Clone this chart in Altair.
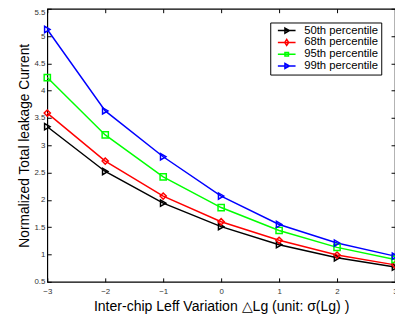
import altair as alt
import pandas as pd

x_vals = [-3, -2, -1, 0, 1, 2, 3]
series_names = ["50th percentile", "68th percentile", "95th percentile", "99th percentile"]
p50 = [3.34, 2.52, 1.94, 1.51, 1.18, 0.94, 0.77]
p68 = [3.59, 2.71, 2.07, 1.60, 1.26, 0.99, 0.81]
p95 = [4.24, 3.19, 2.42, 1.86, 1.44, 1.13, 0.91]
p99 = [5.12, 3.63, 2.79, 2.07, 1.55, 1.21, 0.97]
x_ticks = [-3, -2, -1, 0, 1, 2, 3]
y_ticks = [0.5, 1, 1.5, 2, 2.5, 3, 3.5, 4, 4.5, 5, 5.5]

colors = ["#000000", "#ff0000", "#00ff00", "#0000ff"]
marker_shapes = ["triangle-right", "diamond", "square", "triangle-right"]
legend_shapes = [
    "M-2.25,0H2.25M-0.45,-0.65L0.7,0L-0.45,0.65Z",
    "M-2.25,0H2.25M0,-0.75L0.5,0L0,0.75L-0.5,0Z",
    "M-2.25,0H2.25M-0.45,-0.45H0.45V0.45H-0.45Z",
    "M-2.25,0H2.25M-0.45,-0.65L0.7,0L-0.45,0.65Z",
]

rows = []
for name, vals in zip(series_names, [p50, p68, p95, p99]):
    for xv, yv in zip(x_vals, vals):
        rows.append({"x": xv, "y": yv, "series": name})
df = pd.DataFrame(rows)

FONT = "Liberation Sans"

xscale = alt.Scale(domain=[-3, 3], nice=False, zero=False)
yscale = alt.Scale(domain=[0.5, 5.5], nice=False, zero=False)

base = alt.Chart(df)

lines = base.mark_line(strokeWidth=1.5).encode(
    x=alt.X("x:Q", scale=xscale, axis=alt.Axis(
        orient="bottom", values=x_ticks, offset=-4, tickSize=4, domain=False,
        labelPadding=6, labelFontSize=8, labelColor="#333333", tickColor="#000000",
        grid=False, labelFlush=False,
        title="Inter-chip Leff Variation \u25b3Lg (unit: \u03c3(Lg) )",
        titleFontSize=14.3, titleFontWeight="normal", titlePadding=4, titleColor="#000000")),
    y=alt.Y("y:Q", scale=yscale, axis=alt.Axis(
        orient="left", values=y_ticks, offset=-4, tickSize=4, domain=False,
        labelPadding=2.5, labelFontSize=8, labelColor="#333333", tickColor="#000000",
        grid=False, labelFlush=False, labelExpr="'' + datum.value",
        labelBaseline={"condition": {"test": "datum.value == 5.5", "value": "top"}, "value": "middle"},
        title="Normalized Total leakage Current",
        titleFontSize=14, titleFontWeight="normal", titlePadding=2, titleColor="#000000")),
    color=alt.Color("series:N", scale=alt.Scale(domain=series_names, range=colors), legend=None),
    detail="series:N",
)

points = base.mark_point(filled=False, strokeWidth=1.5, size=40, opacity=1).encode(
    x=alt.X("x:Q", scale=xscale, axis=alt.Axis(
        orient="top", values=x_ticks, offset=-4, tickSize=4, domain=False,
        labels=False, grid=False, title=None, tickColor="#000000")),
    y=alt.Y("y:Q", scale=yscale, axis=alt.Axis(
        orient="right", values=y_ticks, offset=-4, tickSize=4, domain=False,
        labels=False, grid=False, title=None, tickColor="#000000")),
    color=alt.Color("series:N", scale=alt.Scale(domain=series_names, range=colors), legend=None),
    shape=alt.Shape("series:N", scale=alt.Scale(domain=series_names, range=marker_shapes), legend=None),
)

leg = alt.Legend(
    title=None, orient="none", legendX=227, legendY=14,
    fillColor="#ffffff", strokeColor="#000000", padding=2.5, cornerRadius=0,
    labelFontSize=11.5, labelColor="#000000", labelFont=FONT, labelOffset=12,
    labelExpr="datum.label + '\u00a0'",
    symbolSize=64, symbolStrokeWidth=1.5, symbolOpacity=1, symbolOffset=8.5,
    rowPadding=-2.2, clipHeight=11.5,
)

legend_layer = base.mark_point(filled=False, strokeWidth=1.5, size=40, opacity=0).encode(
    x=alt.X("x:Q", scale=xscale, axis=None),
    y=alt.Y("y:Q", scale=yscale, axis=None),
    color=alt.Color("series:N", scale=alt.Scale(domain=series_names, range=colors), legend=leg),
    shape=alt.Shape("series:N", scale=alt.Scale(domain=series_names, range=legend_shapes), legend=leg),
)

chart = alt.layer(lines, points, legend_layer).resolve_scale(
    color="independent", shape="independent"
).resolve_axis(
    x="independent", y="independent"
).properties(
    width=354, height=278,
    autosize=alt.AutoSizeParams(type="none"),
    padding={"left": 40, "top": -2, "right": 0, "bottom": 30},
).configure(
    font=FONT,
).configure_view(
    stroke="#000000", strokeWidth=1.2,
)

chart.save("out.html", embed_options={"renderer": "svg", "actions": False})
